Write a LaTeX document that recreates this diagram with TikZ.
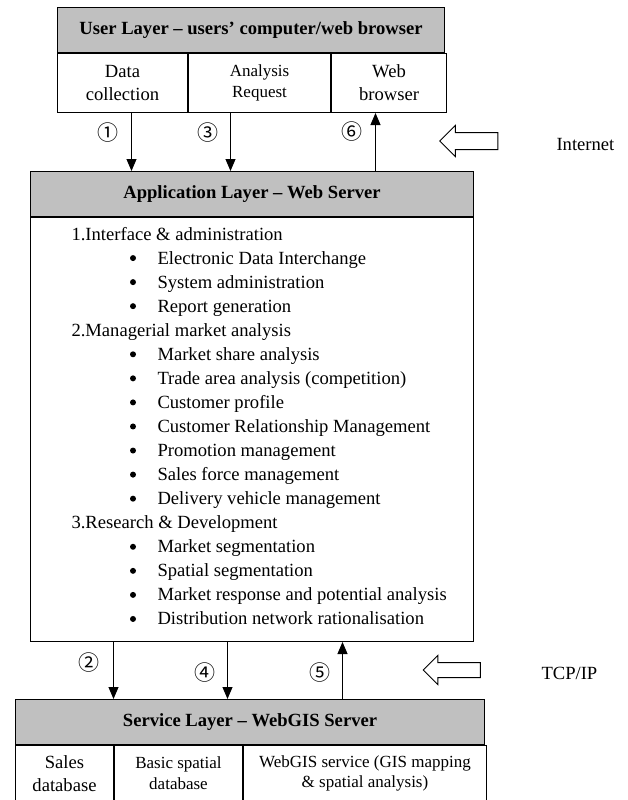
\documentclass[tikz,border=0pt]{standalone}
\usepackage{fontspec}
\setmainfont{Liberation Serif}
\newfontfamily\cjk{Noto Sans CJK SC}
\usepackage{tikz}
\usetikzlibrary{arrows.meta,shapes.arrows}
\definecolor{headgray}{HTML}{C0C0C0}
\newcommand{\bodysize}{\fontsize{18.6}{23}\selectfont}
\newcommand{\cellsize}{\fontsize{17}{20.5}\selectfont}
\tikzstyle{layerhead} = [rectangle, draw, fill=headgray, inner sep=0pt, minimum height=45pt, anchor=north west, font=\bodysize\bfseries]
\tikzstyle{cell} = [rectangle, draw, inner sep=0pt, align=center, anchor=north west]
\tikzstyle{flow} = [-{Triangle[length=12pt,width=10pt]}]
\tikzstyle{steplabel} = [inner sep=0pt, font=\cjk\fontsize{21}{21}\selectfont]
\tikzstyle{bulletdot} = [circle, fill, inner sep=0pt, minimum size=6pt]
\tikzstyle{hollowarrow} = [single arrow, draw, shape border rotate=180, single arrow head extend=7pt]

\begin{document}
\begin{tikzpicture}[x=1pt, y=-1pt, line width=1pt, font=\bodysize]
   \useasboundingbox (0,0) rectangle (628,800);
   % User layer
   \node [layerhead, minimum width=387pt] (userhead) at (57,7) {User Layer -- users' computer/web browser};
   \node [cell, minimum width=130pt, minimum height=59pt] (datacell) at (userhead.south west) {Data\\collection};
   \node [cell, minimum width=142pt, minimum height=59pt, font=\cellsize] (requestcell) at (datacell.north east) {Analysis\\Request};
   \node [cell, minimum width=115pt, minimum height=59pt] (browsercell) at (requestcell.north east) {Web\\browser};

   % Application layer
   \node [layerhead, minimum width=443pt] (apphead) at (30,171) {Application Layer -- Web Server};
   \node [rectangle, draw, anchor=north west, minimum width=443pt, minimum height=424pt] (appbody) at (apphead.south west) {};
   \foreach \xpos/\txt [count=\i] in {71/1.Interface \& administration, 157/Electronic Data Interchange,
       157/System administration, 157/Report generation, 71/2.Managerial market analysis,
       157/Market share analysis, 157/Trade area analysis (competition), 157/Customer profile,
       157/Customer Relationship Management, 157/Promotion management, 157/Sales force management,
       157/Delivery vehicle management, 71/3.Research \& Development, 157/Market segmentation,
       157/Spatial segmentation, 157/Market response and potential analysis,
       157/Distribution network rationalisation}
   {
     \node [anchor=base west, inner sep=0pt] (appline\i) at (\xpos, {240+(\i-1)*24.06}) {\txt};
     \ifnum\xpos>100
       \node [bulletdot] (bullet\i) at (133, {234+(\i-1)*24.06}) {};
     \fi
   }

   % Service layer
   \node [layerhead, minimum width=469pt] (servicehead) at (15,699) {Service Layer -- WebGIS Server};
   \node [cell, minimum width=98pt, minimum height=55.5pt] (salescell) at (servicehead.south west) {Sales\\database};
   \node [cell, minimum width=128pt, minimum height=55.5pt, font=\cellsize] (spatialcell) at (salescell.north east) {Basic spatial\\database};
   \node [cell, minimum width=243pt, minimum height=55.5pt, font=\cellsize] (gisservicecell) at (spatialcell.north east) {WebGIS service (GIS mapping\\\& spatial analysis)};

   % Requests and responses
   \draw [flow] ([xshift=9pt]datacell.south) -- ([xshift=9pt]datacell.south |- apphead.north);
   \draw [flow] ([xshift=-29pt]requestcell.south) -- ([xshift=-29pt]requestcell.south |- apphead.north);
   \draw [flow] ([xshift=-13.5pt]browsercell.south |- apphead.north) -- ([xshift=-13.5pt]browsercell.south);
   \draw [flow] ([xshift=-138.5pt]appbody.south) -- ([xshift=-138.5pt]appbody.south |- servicehead.north);
   \draw [flow] ([xshift=-24.5pt]appbody.south) -- ([xshift=-24.5pt]appbody.south |- servicehead.north);
   \draw [flow] ([xshift=90.5pt]appbody.south |- servicehead.north) -- ([xshift=90.5pt]appbody.south);

   \node [steplabel] (step1) at (108,133) {①};
   \node [steplabel] (step3) at (208,133) {③};
   \node [steplabel] (step6) at (352,132) {⑥};
   \node [steplabel] (step2) at (89,663) {②};
   \node [steplabel] (step4) at (205,673) {④};
   \node [steplabel] (step5) at (320,673) {⑤};

   % Networks
   \node [hollowarrow, inner sep=8pt, minimum height=58pt] (inetarrow) at (473,141) {};
   \node [anchor=west, inner sep=0pt] (inettext) at (556,145) {Internet};
   \node [hollowarrow, inner sep=7pt, minimum height=57pt] (tcparrow) at (455.5,670) {};
   \node [anchor=west, inner sep=0pt] (tcptext) at (541,673) {TCP/IP};
\end{tikzpicture}
\end{document}
